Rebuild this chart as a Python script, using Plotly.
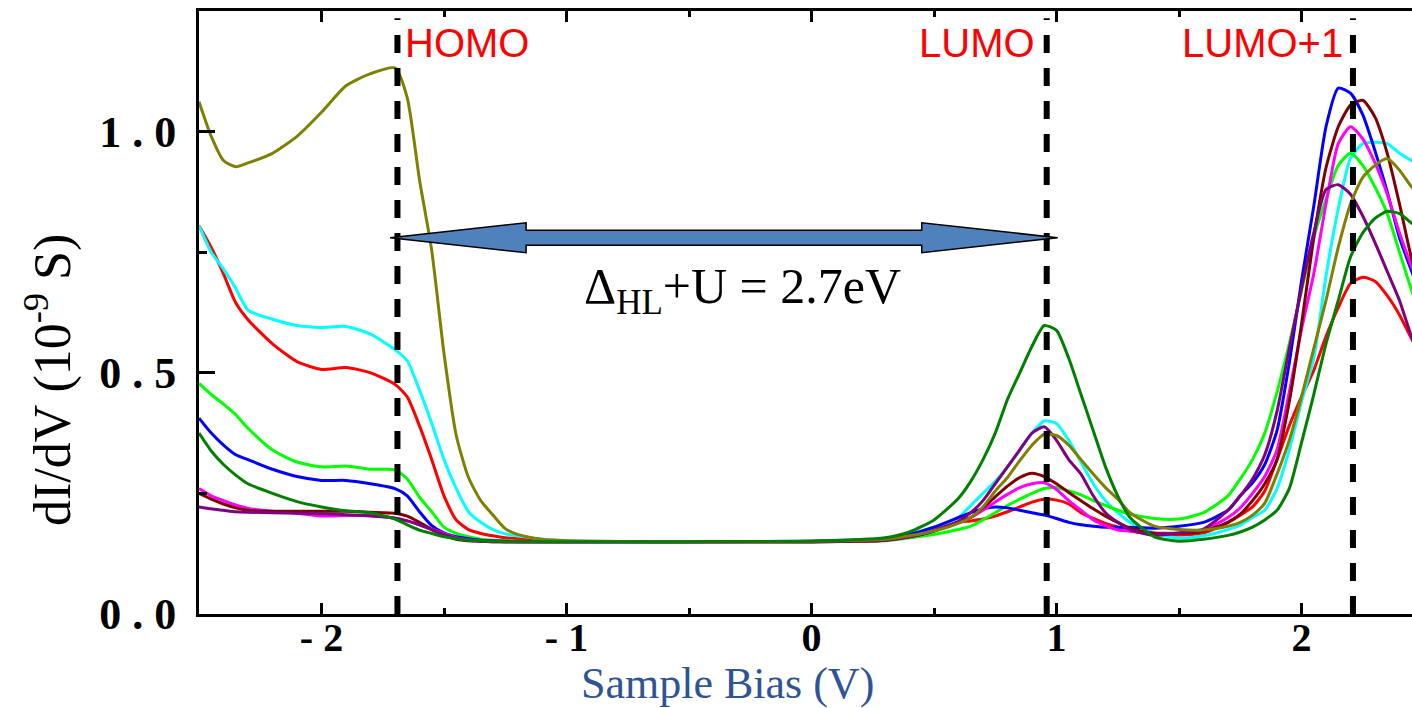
import plotly.graph_objects as go

# ---------------- data ----------------
bias = [-2.5, -2.45, -2.4, -2.35, -2.3, -2.2, -2.1, -2.0, -1.9, -1.8, -1.7, -1.65, -1.6, -1.55,
        -1.5, -1.45, -1.4, -1.35, -1.3, -1.25, -1.2, -1.1, -1.0, -0.5, 0.0,
        0.3, 0.4, 0.5, 0.6, 0.65, 0.7, 0.75, 0.8, 0.85, 0.9, 0.95, 1.0, 1.05, 1.1, 1.15, 1.2,
        1.25, 1.3, 1.4, 1.5, 1.6, 1.7, 1.75, 1.8, 1.85, 1.9, 1.95, 2.0, 2.05, 2.1, 2.15, 2.2,
        2.25, 2.3, 2.35, 2.4, 2.45, 2.5]

red = [0.805, 0.76, 0.705, 0.645, 0.61, 0.56, 0.523, 0.507, 0.511, 0.50, 0.476, 0.45, 0.39, 0.32,
       0.245, 0.195, 0.175, 0.167, 0.162, 0.158, 0.156, 0.153, 0.151, 0.15, 0.15,
       0.153, 0.16, 0.175, 0.19, 0.193, 0.197, 0.203, 0.212, 0.222, 0.232, 0.238, 0.236, 0.228,
       0.21, 0.198, 0.188, 0.18, 0.172, 0.166, 0.164, 0.168, 0.19, 0.205, 0.222, 0.255, 0.32,
       0.39, 0.45, 0.505, 0.575, 0.635, 0.685, 0.698, 0.69, 0.66, 0.62, 0.57, 0.52]

cyan = [0.805, 0.75, 0.715, 0.675, 0.63, 0.611, 0.598, 0.594, 0.596, 0.58, 0.548, 0.525, 0.464,
        0.395, 0.32, 0.26, 0.212, 0.19, 0.175, 0.166, 0.162, 0.155, 0.152, 0.15, 0.151,
        0.156, 0.165, 0.18, 0.20, 0.225, 0.25, 0.275, 0.305, 0.34, 0.375, 0.40, 0.395, 0.36,
        0.315, 0.27, 0.235, 0.21, 0.19, 0.168, 0.157, 0.162, 0.175, 0.184, 0.20, 0.215, 0.26,
        0.34, 0.44, 0.53, 0.70, 0.84, 0.945, 0.975, 0.978, 0.975, 0.955, 0.94, 0.93]

green = [0.478, 0.455, 0.435, 0.413, 0.385, 0.34, 0.315, 0.305, 0.307, 0.30, 0.299, 0.28, 0.242,
         0.212, 0.18, 0.167, 0.16, 0.155, 0.153, 0.152, 0.151, 0.15, 0.15, 0.15, 0.15,
         0.152, 0.158, 0.165, 0.175, 0.182, 0.195, 0.21, 0.225, 0.238, 0.25, 0.26, 0.262, 0.255,
         0.247, 0.235, 0.225, 0.215, 0.207, 0.198, 0.197, 0.21, 0.245, 0.28, 0.32, 0.375, 0.46,
         0.56, 0.67, 0.78, 0.86, 0.93, 0.955, 0.93, 0.885, 0.83, 0.75, 0.67, 0.6]

blue = [0.406, 0.375, 0.35, 0.33, 0.32, 0.30, 0.285, 0.277, 0.277, 0.27, 0.26, 0.245, 0.212,
        0.183, 0.168, 0.16, 0.156, 0.153, 0.152, 0.151, 0.15, 0.15, 0.15, 0.15, 0.151,
        0.156, 0.165, 0.18, 0.20, 0.21, 0.218, 0.222, 0.22, 0.215, 0.21, 0.205, 0.198, 0.19,
        0.185, 0.182, 0.18, 0.18, 0.18, 0.178, 0.182, 0.19, 0.215, 0.245, 0.272, 0.31, 0.38,
        0.52, 0.69, 0.845, 1.01, 1.09, 1.08, 1.035, 0.96, 0.875, 0.78, 0.71, 0.64]

dark_green = [0.375, 0.338, 0.31, 0.288, 0.27, 0.25, 0.233, 0.222, 0.214, 0.21, 0.197, 0.185,
              0.174, 0.167, 0.16, 0.156, 0.153, 0.152, 0.151, 0.15, 0.15, 0.15, 0.15, 0.15, 0.151,
              0.158, 0.17, 0.195, 0.24, 0.275, 0.32, 0.375, 0.445, 0.50, 0.555, 0.598, 0.588,
              0.53, 0.455, 0.38, 0.305, 0.245, 0.2, 0.16, 0.151, 0.155, 0.163, 0.17, 0.18, 0.195,
              0.215, 0.26, 0.355, 0.455, 0.56, 0.65, 0.74, 0.79, 0.82, 0.835, 0.83, 0.81, 0.79]

magenta = [0.26, 0.245, 0.235, 0.226, 0.219, 0.213, 0.209, 0.203, 0.204, 0.204, 0.198, 0.193,
           0.185, 0.176, 0.167, 0.158, 0.154, 0.152, 0.151, 0.15, 0.15, 0.15, 0.15, 0.15, 0.15,
           0.153, 0.16, 0.172, 0.19, 0.2, 0.215, 0.232, 0.248, 0.262, 0.27, 0.272, 0.258, 0.235,
           0.215, 0.195, 0.183, 0.174, 0.172, 0.168, 0.168, 0.174, 0.2, 0.22, 0.25, 0.285, 0.34,
           0.46, 0.59, 0.705, 0.85, 0.975, 1.01, 0.985, 0.935, 0.87, 0.79, 0.72, 0.66]

maroon = [0.25, 0.238, 0.228, 0.22, 0.215, 0.213, 0.213, 0.213, 0.213, 0.211, 0.209, 0.203, 0.19,
          0.175, 0.163, 0.155, 0.152, 0.151, 0.15, 0.15, 0.15, 0.15, 0.15, 0.15, 0.15,
          0.153, 0.16, 0.172, 0.19, 0.2, 0.22, 0.243, 0.265, 0.283, 0.292, 0.285, 0.27, 0.252,
          0.235, 0.218, 0.203, 0.19, 0.178, 0.167, 0.167, 0.172, 0.19, 0.207, 0.235, 0.27, 0.32,
          0.44, 0.6, 0.78, 0.925, 1.01, 1.055, 1.065, 1.03, 0.955, 0.85, 0.735, 0.65]

purple = [0.222, 0.218, 0.215, 0.212, 0.211, 0.21, 0.209, 0.208, 0.206, 0.203, 0.199, 0.193, 0.185,
          0.175, 0.165, 0.157, 0.153, 0.151, 0.15, 0.15, 0.15, 0.15, 0.15, 0.15, 0.15,
          0.153, 0.16, 0.172, 0.192, 0.21, 0.235, 0.27, 0.305, 0.34, 0.375, 0.388, 0.36, 0.32,
          0.29, 0.245, 0.21, 0.19, 0.175, 0.163, 0.168, 0.176, 0.215, 0.245, 0.28, 0.33, 0.42,
          0.55, 0.675, 0.79, 0.88, 0.89, 0.87, 0.825, 0.77, 0.71, 0.65, 0.574, 0.52]

olive = [1.062, 0.99, 0.94, 0.927, 0.935, 0.955, 0.99, 1.04, 1.095, 1.12, 1.132, 1.07, 0.90, 0.753,
         0.54, 0.37, 0.283, 0.235, 0.205, 0.177, 0.165, 0.155, 0.152, 0.15, 0.151,
         0.155, 0.162, 0.172, 0.188, 0.2, 0.222, 0.255, 0.283, 0.318, 0.35, 0.373, 0.37, 0.35,
         0.32, 0.29, 0.262, 0.238, 0.21, 0.182, 0.175, 0.174, 0.182, 0.19, 0.205, 0.23, 0.29,
         0.36, 0.45, 0.55, 0.65, 0.76, 0.85, 0.905, 0.93, 0.944, 0.92, 0.885, 0.86]

series = [
    ("red", red, "#FF0000"),
    ("cyan", cyan, "#00FFFF"),
    ("green", green, "#00FF00"),
    ("blue", blue, "#0000FF"),
    ("magenta", magenta, "#FF00FF"),
    ("maroon", maroon, "#800000"),
    ("purple", purple, "#800080"),
    ("olive", olive, "#808000"),
    ("dark green", dark_green, "#008000"),
]

x_tickvals = [-2, -1, 0, 1, 2]
x_ticktext = ["- 2", "- 1", "0", "1", "2"]
y_tickvals = [0.0, 0.5, 1.0]
y_ticktext = ["0 . 0", "0 . 5", "1 . 0"]

# level positions (V)
homo_v = -1.69
lumo_v = 0.96
lumo1_v = 2.21
level_top = 1.235
arrow_x0, arrow_x1, arrow_y = -1.72, 1.005, 0.78
gap_text = "Δ<sub>HL</sub>+U = 2.7eV"

# ---------------- figure ----------------
W, H = 1412, 708
ML, MR, MT, MB = 199, 0, 11, 94
PW, PH = W - ML - MR, H - MT - MB
XR = [-2.5, 2.451]
YR = [0.0, 1.25]

def px_x(p):
    return (p - ML) / PW

def px_y(p):
    return (H - MB - p) / PH

fig = go.Figure()
for name, ys, col in series:
    fig.add_trace(go.Scatter(x=bias, y=ys, mode="lines", name=name,
                             line=dict(color=col, width=3, shape="spline", smoothing=0.6),
                             showlegend=False, hoverinfo="skip"))

# dashed level lines
for v in [homo_v, lumo_v, lumo1_v]:
    fig.add_shape(type="line", xref="x", yref="y", x0=v, x1=v, y0=0, y1=level_top,
                  line=dict(color="black", width=6, dash="18px,15px"), layer="above")

# double-headed arrow
xs_per_px = (XR[1] - XR[0]) / PW
ys_per_px = (YR[1] - YR[0]) / PH
head_len = 136 * xs_per_px
shaft_h = 7.5 * ys_per_px
head_h = 15 * ys_per_px
pts = [
    (arrow_x0, arrow_y),
    (arrow_x0 + head_len, arrow_y + head_h),
    (arrow_x0 + head_len, arrow_y + shaft_h),
    (arrow_x1 - head_len, arrow_y + shaft_h),
    (arrow_x1 - head_len, arrow_y + head_h),
    (arrow_x1, arrow_y),
    (arrow_x1 - head_len, arrow_y - head_h),
    (arrow_x1 - head_len, arrow_y - shaft_h),
    (arrow_x0 + head_len, arrow_y - shaft_h),
    (arrow_x0 + head_len, arrow_y - head_h),
]
path = "M " + " L ".join(f"{px},{py}" for px, py in pts) + " Z"
fig.add_shape(type="path", xref="x", yref="y", path=path,
              fillcolor="#4F81BD", line=dict(color="black", width=1.5), layer="above")

red_font = dict(family="Liberation Sans", size=40, color="#FF0000")
fig.add_annotation(x=homo_v, y=px_y(43), xref="x", yref="paper", text="HOMO",
                   showarrow=False, xanchor="left", yanchor="middle", xshift=6, font=red_font)
fig.add_annotation(x=lumo_v, y=px_y(43), xref="x", yref="paper", text="LUMO",
                   showarrow=False, xanchor="right", yanchor="middle", xshift=-10, font=red_font)
fig.add_annotation(x=lumo1_v, y=px_y(43), xref="x", yref="paper", text="LUMO+1",
                   showarrow=False, xanchor="right", yanchor="middle", xshift=-8, font=red_font)

serif = "Liberation Serif"
fig.add_annotation(x=px_x(582), y=px_y(290), xref="paper", yref="paper", text=gap_text,
                   showarrow=False, xanchor="left", yanchor="middle",
                   font=dict(family=serif, size=50, color="black"))

fig.add_annotation(x=px_x(727), y=px_y(683), xref="paper", yref="paper", text="Sample Bias (V)",
                   showarrow=False, xanchor="center", yanchor="middle",
                   font=dict(family=serif, size=44, color="#2F5496"))

fig.add_annotation(x=px_x(49), y=px_y(380), xref="paper", yref="paper",
                   text="dI/dV (10<sup>-9</sup> S)", textangle=-90,
                   showarrow=False, xanchor="center", yanchor="middle",
                   font=dict(family=serif, size=52, color="black"))

x_tick_font = dict(family=serif, size=40, color="black", weight="bold")
y_tick_font = dict(family=serif, size=44, color="black", weight="bold")
fig.update_xaxes(range=XR, automargin=False, showgrid=False, zeroline=False, showline=True,
                 linecolor="black", linewidth=3, mirror="ticks", ticks="inside", ticklen=11,
                 tickwidth=2.5, tickcolor="black", tickvals=x_tickvals, ticktext=x_ticktext,
                 tickfont=x_tick_font, ticklabelstandoff=-14,
                 minor=dict(dtick=0.5, tick0=0, ticks="inside", ticklen=6, tickwidth=2.5,
                            tickcolor="black", showgrid=False))
fig.update_yaxes(range=YR, automargin=False, showgrid=False, zeroline=False, showline=True,
                 linecolor="black", linewidth=3, ticks="inside", ticklen=16, tickwidth=2.5,
                 tickcolor="black", tickvals=y_tickvals, ticktext=y_ticktext, tickfont=y_tick_font,
                 ticklabelstandoff=11,
                 minor=dict(dtick=0.25, tick0=0, ticks="inside", ticklen=8, tickwidth=2.5,
                            tickcolor="black", showgrid=False))

fig.update_layout(width=W, height=H, margin=dict(l=ML, r=MR, t=MT, b=MB),
                  paper_bgcolor="white", plot_bgcolor="white")

fig.write_html("out.html", config={"displayModeBar": False},
               post_script="document.body.style.margin='0';document.body.style.overflow='hidden';")
